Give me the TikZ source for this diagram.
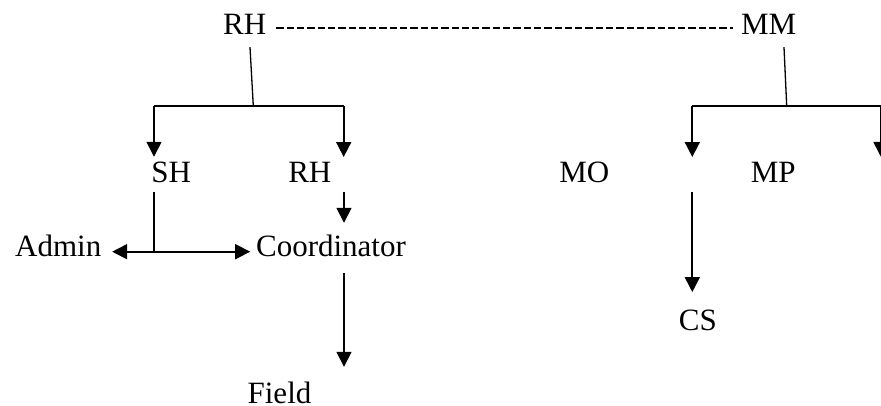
\documentclass[tikz,border=0pt]{standalone}
\usepackage{fontspec}
\setmainfont{Liberation Serif}
\usetikzlibrary{arrows.meta}
\begin{document}
\begin{tikzpicture}[x=1pt,y=-1pt,
  lbl/.style={inner sep=0pt, anchor=base, font=\fontsize{31}{37}\selectfont},
  bar/.style={line width=1.7pt},
  stem/.style={line width=1.3pt},
  arr/.style={line width=1.7pt, -{Triangle[width=15pt,length=15pt]}},
  dashline/.style={line width=1.8pt, dash pattern=on 7.3pt off 3pt}]
\useasboundingbox (0,0) rectangle (881,406);
% text nodes
\node[lbl] (rhT)   at (244.7,35)    {RH};
\node[lbl] (mm)    at (768.7,35)    {MM};
\node[lbl] (sh)    at (171.3,183)   {SH};
\node[lbl] (rh2)   at (309.8,183)   {RH};
\node[lbl] (mo)    at (584.3,183)   {MO};
\node[lbl] (mp)    at (773.3,183)   {MP};
\node[lbl] (admin) at (58.3,257)    {Admin};
\node[lbl] (coord) at (331,257)     {Coordinator};
\node[lbl] (field) at (279.5,403.3) {Field};
\node[lbl] (cs)    at (697.8,330.7) {CS};
% junctions and columns
\coordinate (jL)  at (253.3,106);
\coordinate (jR)  at (786.7,106);
\coordinate (cL1) at (154,106);
\coordinate (cL2) at (343.7,106);
\coordinate (cR1) at (692.3,106);
\coordinate (cR2) at (881,106);
\coordinate (offR) at (881,157);
\coordinate (jA)  at (154,251.7);
\coordinate (colC) at (344,0);
% dashed link
\draw[dashline] ([xshift=10pt,yshift=7pt]rhT.base east) -- ([xshift=-8pt,yshift=7pt]mm.base west);
% left tree
\draw[stem] ([xshift=5.3pt,yshift=-12pt]rhT.south) -- (jL);
\draw[bar] (cL1) -- (cL2);
\draw[arr, shorten >=5.5pt] (cL1) -- (cL1 |- sh.north);
\draw[arr, shorten >=5.5pt] (cL2) -- (cL2 |- rh2.north);
\draw[stem] ([xshift=-17.3pt,yshift=-8.7pt]sh.south) -- (jA);
\draw[arr, shorten >=10.6pt] (jA) -- (jA -| admin.east);
\draw[arr, shorten >=5.7pt] (jA) -- (jA -| coord.west);
\draw[arr, shorten <=8.7pt, shorten >=12.5pt] (rh2.south -| colC) -- (coord.north -| colC);
\draw[arr, shorten <=15.7pt, shorten >=14.8pt] (coord.south -| colC) -- (field.north -| colC);
% right tree
\draw[stem] ([xshift=15.3pt,yshift=-12pt]mm.south) -- (jR);
\draw[bar] (cR1) -- ([xshift=10pt]cR2);
\draw[arr, shorten >=5.5pt] (cR1) -- (cR1 |- mp.north);
\draw[arr] (cR2) -- (offR);
\draw[arr, shorten <=8.7pt, shorten >=17.9pt] (mp.south -| cR1) -- (cs.north -| cR1);
\end{tikzpicture}
\end{document}
